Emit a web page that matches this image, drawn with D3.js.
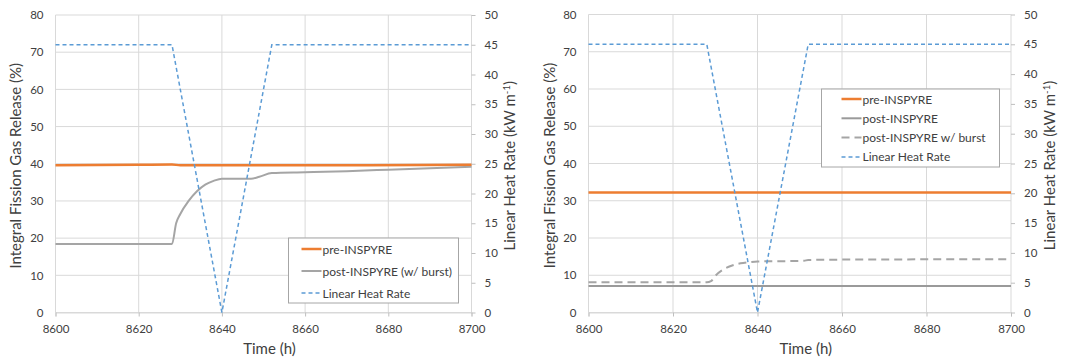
<!DOCTYPE html>
<html><head><meta charset="utf-8">
<script src="https://cdn.jsdelivr.net/npm/d3@7"></script>
<style>
body{margin:0;background:#fff;}
svg{display:block;font-family:Lato,"Open Sans",sans-serif;}
</style></head>
<body><svg id="c" width="1069" height="361"></svg>
<script>
// ---- data ----
const xTicks = [8600, 8620, 8640, 8660, 8680, 8700];
const yLeftTicks = [0, 10, 20, 30, 40, 50, 60, 70, 80];
const yRightTicks = [0, 5, 10, 15, 20, 25, 30, 35, 40, 45, 50];

const lhrTime = [8600, 8628, 8640, 8652, 8700];
const lhrValues = [45, 45, 0, 45, 45];

// left panel
const leftPreTime = [8600, 8620, 8628, 8630, 8660, 8700];
const leftPreValues = [39.6, 39.7, 39.8, 39.6, 39.6, 39.7];
const leftPostTime = [8600, 8628, 8629, 8630, 8632, 8634, 8636, 8638, 8640, 8647, 8649, 8652, 8660, 8670, 8680, 8690, 8700];
const leftPostValues = [18.4, 18.4, 24.0, 26.5, 30.0, 32.6, 34.4, 35.4, 36.0, 36.0, 36.5, 37.5, 37.7, 38.0, 38.4, 38.8, 39.2];

// right panel
const rightPreTime = [8600, 8700];
const rightPreValues = [32.2, 32.2];
const rightPostTime = [8600, 8700];
const rightPostValues = [7.1, 7.1];
const rightBurstTime = [8600, 8628, 8629, 8630, 8632, 8634, 8636, 8638, 8640, 8648, 8651, 8652, 8660, 8700];
const rightBurstValues = [8.1, 8.1, 8.4, 9.8, 11.6, 12.6, 13.2, 13.5, 13.7, 13.8, 13.9, 14.1, 14.2, 14.3];

const leftLegend = ["pre-INSPYRE", "post-INSPYRE (w/ burst)", "Linear Heat Rate"];
const rightLegend = ["pre-INSPYRE", "post-INSPYRE", "post-INSPYRE w/ burst", "Linear Heat Rate"];

const ORANGE = "#ED7D31", GRAY = "#A5A5A5", BLUE = "#5B9BD5";
const styles = {
  pre: {stroke: ORANGE, width: 2.5, dash: null},
  post: {stroke: GRAY, width: 2, dash: null},
  postSolid: {stroke: "#9a9a9a", width: 2, dash: null},
  burst: {stroke: GRAY, width: 2, dash: "8,5"},
  lhr: {stroke: BLUE, width: 1.5, dash: "4,3"}
};

const svg = d3.select("#c");

function panel(cfg) {
  const {x0, x1, y0, y1} = cfg;
  const x = d3.scaleLinear().domain([8600, 8700]).range([x0, x1]);
  const yL = d3.scaleLinear().domain([0, 80]).range([y1, y0]);
  const yR = d3.scaleLinear().domain([0, 50]).range([y1, y0]);
  const g = svg.append("g");

  // gridlines
  g.append("g").selectAll("line").data(yLeftTicks).join("line")
    .attr("x1", x0).attr("x2", x1).attr("y1", d => yL(d)).attr("y2", d => yL(d))
    .attr("stroke", "#d9d9d9").attr("stroke-width", 1);
  g.append("g").selectAll("line").data(xTicks).join("line")
    .attr("y1", y0).attr("y2", y1).attr("x1", d => x(d)).attr("x2", d => x(d))
    .attr("stroke", "#d9d9d9").attr("stroke-width", 1);

  // axes
  const ax = g.append("g").attr("transform", `translate(0,${y1})`)
    .call(d3.axisBottom(x).tickValues(xTicks).tickSize(4).tickPadding(8).tickFormat(d3.format("d")));
  const al = g.append("g").attr("transform", `translate(${x0},0)`)
    .call(d3.axisLeft(yL).tickValues(yLeftTicks).tickSize(0).tickPadding(12));
  const ar = g.append("g").attr("transform", `translate(${x1},0)`)
    .call(d3.axisRight(yR).tickValues(yRightTicks).tickSize(4).tickPadding(9));
  [ax, al, ar].forEach(a => {
    a.select(".domain").attr("stroke", "#d9d9d9");
    a.selectAll(".tick line").attr("stroke", "#bfbfbf");
    a.selectAll("text").attr("font-size", 11.5).attr("fill", "#404040").attr("font-family", "Lato");
  });
  al.select(".domain").remove();
  ar.select(".domain").remove();
  ar.selectAll("text").attr("text-anchor", "start");

  // titles
  g.append("text").attr("x", (x0 + x1) / 2 + 6).attr("y", y1 + 41).attr("text-anchor", "middle")
    .attr("font-size", 15).attr("fill", "#404040").text("Time (h)");
  g.append("text").attr("transform", `translate(${cfg.lTitleX},${(y0 + y1) / 2 + 2}) rotate(-90)`)
    .attr("text-anchor", "middle").attr("font-size", 15).attr("fill", "#404040")
    .text("Integral Fission Gas Release (%)");
  const rt = g.append("text").attr("transform", `translate(${cfg.rTitleX},${(y0 + y1) / 2 + 2}) rotate(-90)`)
    .attr("text-anchor", "middle").attr("font-size", 15).attr("fill", "#404040");
  rt.append("tspan").text("Linear Heat Rate (kW m");
  rt.append("tspan").attr("baseline-shift", "super").attr("font-size", 9.5).text("-1");
  rt.append("tspan").text(")");

  // series
  const lineL = d3.line().x(d => x(d[0])).y(d => yL(d[1])).curve(d3.curveMonotoneX);
  const lineR = d3.line().x(d => x(d[0])).y(d => yR(d[1]));
  cfg.series.forEach(s => {
    const st = styles[s.style];
    const data = d3.zip(s.t, s.v);
    g.append("path").attr("d", (s.right ? lineR : lineL)(data))
      .attr("fill", "none").attr("stroke", st.stroke).attr("stroke-width", st.width)
      .attr("stroke-dasharray", st.dash);
  });

  // legend
  const L = cfg.legend;
  g.append("rect").attr("x", L.x).attr("y", L.y).attr("width", L.w).attr("height", L.h)
    .attr("fill", "#fff").attr("stroke", "#a6a6a6").attr("stroke-width", 1);
  L.items.forEach((name, i) => {
    const st = styles[L.styles[i]];
    const yy = L.y + L.first + i * L.step;
    g.append("line").attr("x1", L.x + L.sx).attr("x2", L.x + L.sx + 20).attr("y1", yy).attr("y2", yy)
      .attr("stroke", st.stroke).attr("stroke-width", st.width).attr("stroke-dasharray", st.dash);
    g.append("text").attr("x", L.x + L.sx + 21).attr("y", yy + 4.5).attr("font-size", 12)
      .attr("fill", "#404040").text(name);
  });
}

panel({
  x0: 55.5, x1: 471.5, y0: 15, y1: 312.5, lTitleX: 21, rTitleX: 515,
  series: [
    {t: leftPostTime, v: leftPostValues, style: "post"},
    {t: leftPreTime, v: leftPreValues, style: "pre"},
    {t: lhrTime, v: lhrValues, style: "lhr", right: true}
  ],
  legend: {x: 288.5, y: 238, w: 170, h: 65, first: 11, step: 22, sx: 13,
    items: leftLegend, styles: ["pre", "post", "lhr"]}
});

panel({
  x0: 588.5, x1: 1011, y0: 14.5, y1: 312.5, lTitleX: 555, rTitleX: 1055,
  series: [
    {t: rightPostTime, v: rightPostValues, style: "postSolid"},
    {t: rightBurstTime, v: rightBurstValues, style: "burst"},
    {t: rightPreTime, v: rightPreValues, style: "pre"},
    {t: lhrTime, v: lhrValues, style: "lhr", right: true}
  ],
  legend: {x: 821.5, y: 89, w: 178, h: 78, first: 10, step: 19.3, sx: 20,
    items: rightLegend, styles: ["pre", "postSolid", "burst", "lhr"]}
});
</script></body></html>
